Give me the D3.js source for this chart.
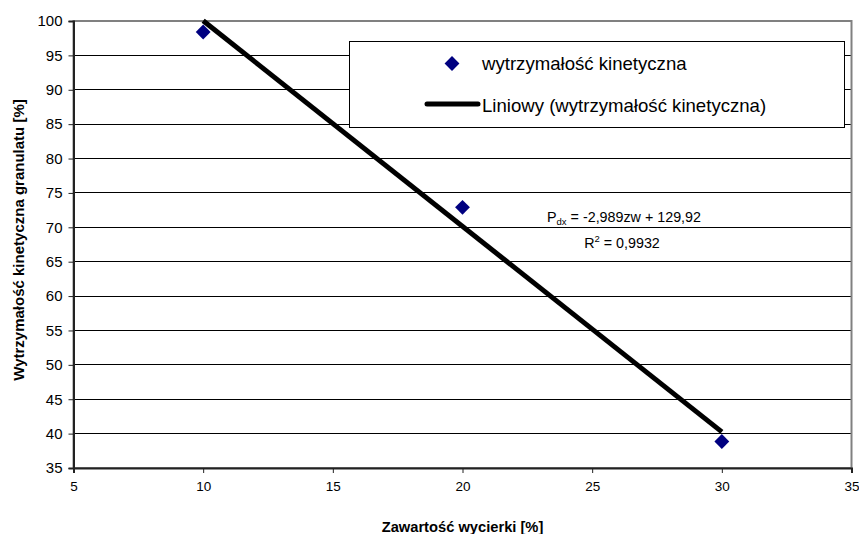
<!DOCTYPE html>
<html><head><meta charset="utf-8">
<script src="https://cdn.jsdelivr.net/npm/d3@7"></script>
<style>body{margin:0;background:#fff}svg{display:block;font-family:Arial,"Liberation Sans",sans-serif}</style>
</head><body>
<svg id="c" width="859" height="534"></svg>
<script>
const xValues = [10, 20, 30];
const yValues = [98.4, 72.9, 38.85];
const trendSlope = -2.989;
const trendIntercept = 129.92;
const xTicks = [5, 10, 15, 20, 25, 30, 35];
const yTicks = [35, 40, 45, 50, 55, 60, 65, 70, 75, 80, 85, 90, 95, 100];
const seriesName = "wytrzymałość kinetyczna";
const trendName = "Liniowy (wytrzymałość kinetyczna)";
const xTitle = "Zawartość wycierki [%]";
const yTitle = "Wytrzymałość kinetyczna granulatu  [%]";

const svg = d3.select("#c");
const L = 73.5, R = 851.5, T = 21, B = 468;
const x = d3.scaleLinear().domain([5, 35]).range([L, R]);
const y = d3.scaleLinear().domain([35, 100]).range([B, T]);

// gridlines
svg.append("g").selectAll("line").data(yTicks).join("line")
  .attr("x1", L).attr("x2", R).attr("y1", d => y(d)).attr("y2", d => y(d))
  .attr("stroke", "#000").attr("stroke-width", 1).attr("shape-rendering", "crispEdges");

// plot border
svg.append("rect").attr("x", L).attr("y", T).attr("width", R - L).attr("height", B - T)
  .attr("fill", "none").attr("stroke", "#808080").attr("stroke-width", 2);

// axes
const ax = svg.append("g").attr("transform", `translate(0,${B})`)
  .call(d3.axisBottom(x).tickValues(xTicks).tickSize(5).tickPadding(8).tickFormat(d3.format("d")));
const ay = svg.append("g").attr("transform", `translate(${L},0)`)
  .call(d3.axisLeft(y).tickValues(yTicks).tickSize(5).tickPadding(6).tickFormat(d3.format("d")));
[ax, ay].forEach(g => {
  g.select(".domain").attr("stroke", "#222").attr("stroke-width", 2);
  g.selectAll(".tick line").attr("stroke", "#222");
  g.selectAll("text").attr("fill", "#000").attr("font-family", "Arial, 'Liberation Sans', sans-serif");
});
ax.selectAll("text").attr("font-size", 13.5);
ay.selectAll("text").attr("font-size", 15);

// trendline
svg.append("line")
  .attr("x1", x(d3.min(xValues))).attr("y1", y(trendSlope * d3.min(xValues) + trendIntercept))
  .attr("x2", x(d3.max(xValues))).attr("y2", y(trendSlope * d3.max(xValues) + trendIntercept))
  .attr("stroke", "#000").attr("stroke-width", 5);

// points
const diamond = d3.symbol().type(d3.symbolSquare).size(110);
svg.append("g").selectAll("path").data(xValues).join("path")
  .attr("d", diamond)
  .attr("transform", (d, i) => `translate(${x(d)},${y(yValues[i])}) rotate(45)`)
  .attr("fill", "#000080");

// equation
const eq = svg.append("text").attr("x", 624).attr("y", 222).attr("text-anchor", "middle").attr("font-size", 14.3);
eq.append("tspan").text("P");
eq.append("tspan").attr("font-size", 9.5).attr("dy", 3).text("dx");
eq.append("tspan").attr("dy", -3).text(" = -2,989zw + 129,92");
const r2 = svg.append("text").attr("x", 622).attr("y", 248).attr("text-anchor", "middle").attr("font-size", 14.3);
r2.append("tspan").text("R");
r2.append("tspan").attr("font-size", 9.5).attr("dy", -6).text("2");
r2.append("tspan").attr("dy", 6).text(" = 0,9932");

// legend
svg.append("rect").attr("x", 349.5).attr("y", 41.5).attr("width", 495).attr("height", 86)
  .attr("fill", "#fff").attr("stroke", "#000").attr("stroke-width", 1);
svg.append("path").attr("d", diamond).attr("transform", "translate(452,63.5) rotate(45)").attr("fill", "#000080");
svg.append("text").attr("x", 482).attr("y", 70).attr("font-size", 18.6).text(seriesName);
svg.append("line").attr("x1", 427).attr("x2", 478).attr("y1", 104).attr("y2", 104)
  .attr("stroke", "#000").attr("stroke-width", 5).attr("stroke-linecap", "round");
svg.append("text").attr("x", 482).attr("y", 112).attr("font-size", 18.6).text(trendName);

// axis titles
svg.append("text").attr("x", (L + R) / 2).attr("y", 532).attr("text-anchor", "middle")
  .attr("font-size", 14.7).attr("font-weight", "bold").text(xTitle);
svg.append("text").attr("transform", `translate(24,240) rotate(-90)`).attr("text-anchor", "middle")
  .attr("font-size", 15).attr("font-weight", "bold").text(yTitle);
</script>
</body></html>
